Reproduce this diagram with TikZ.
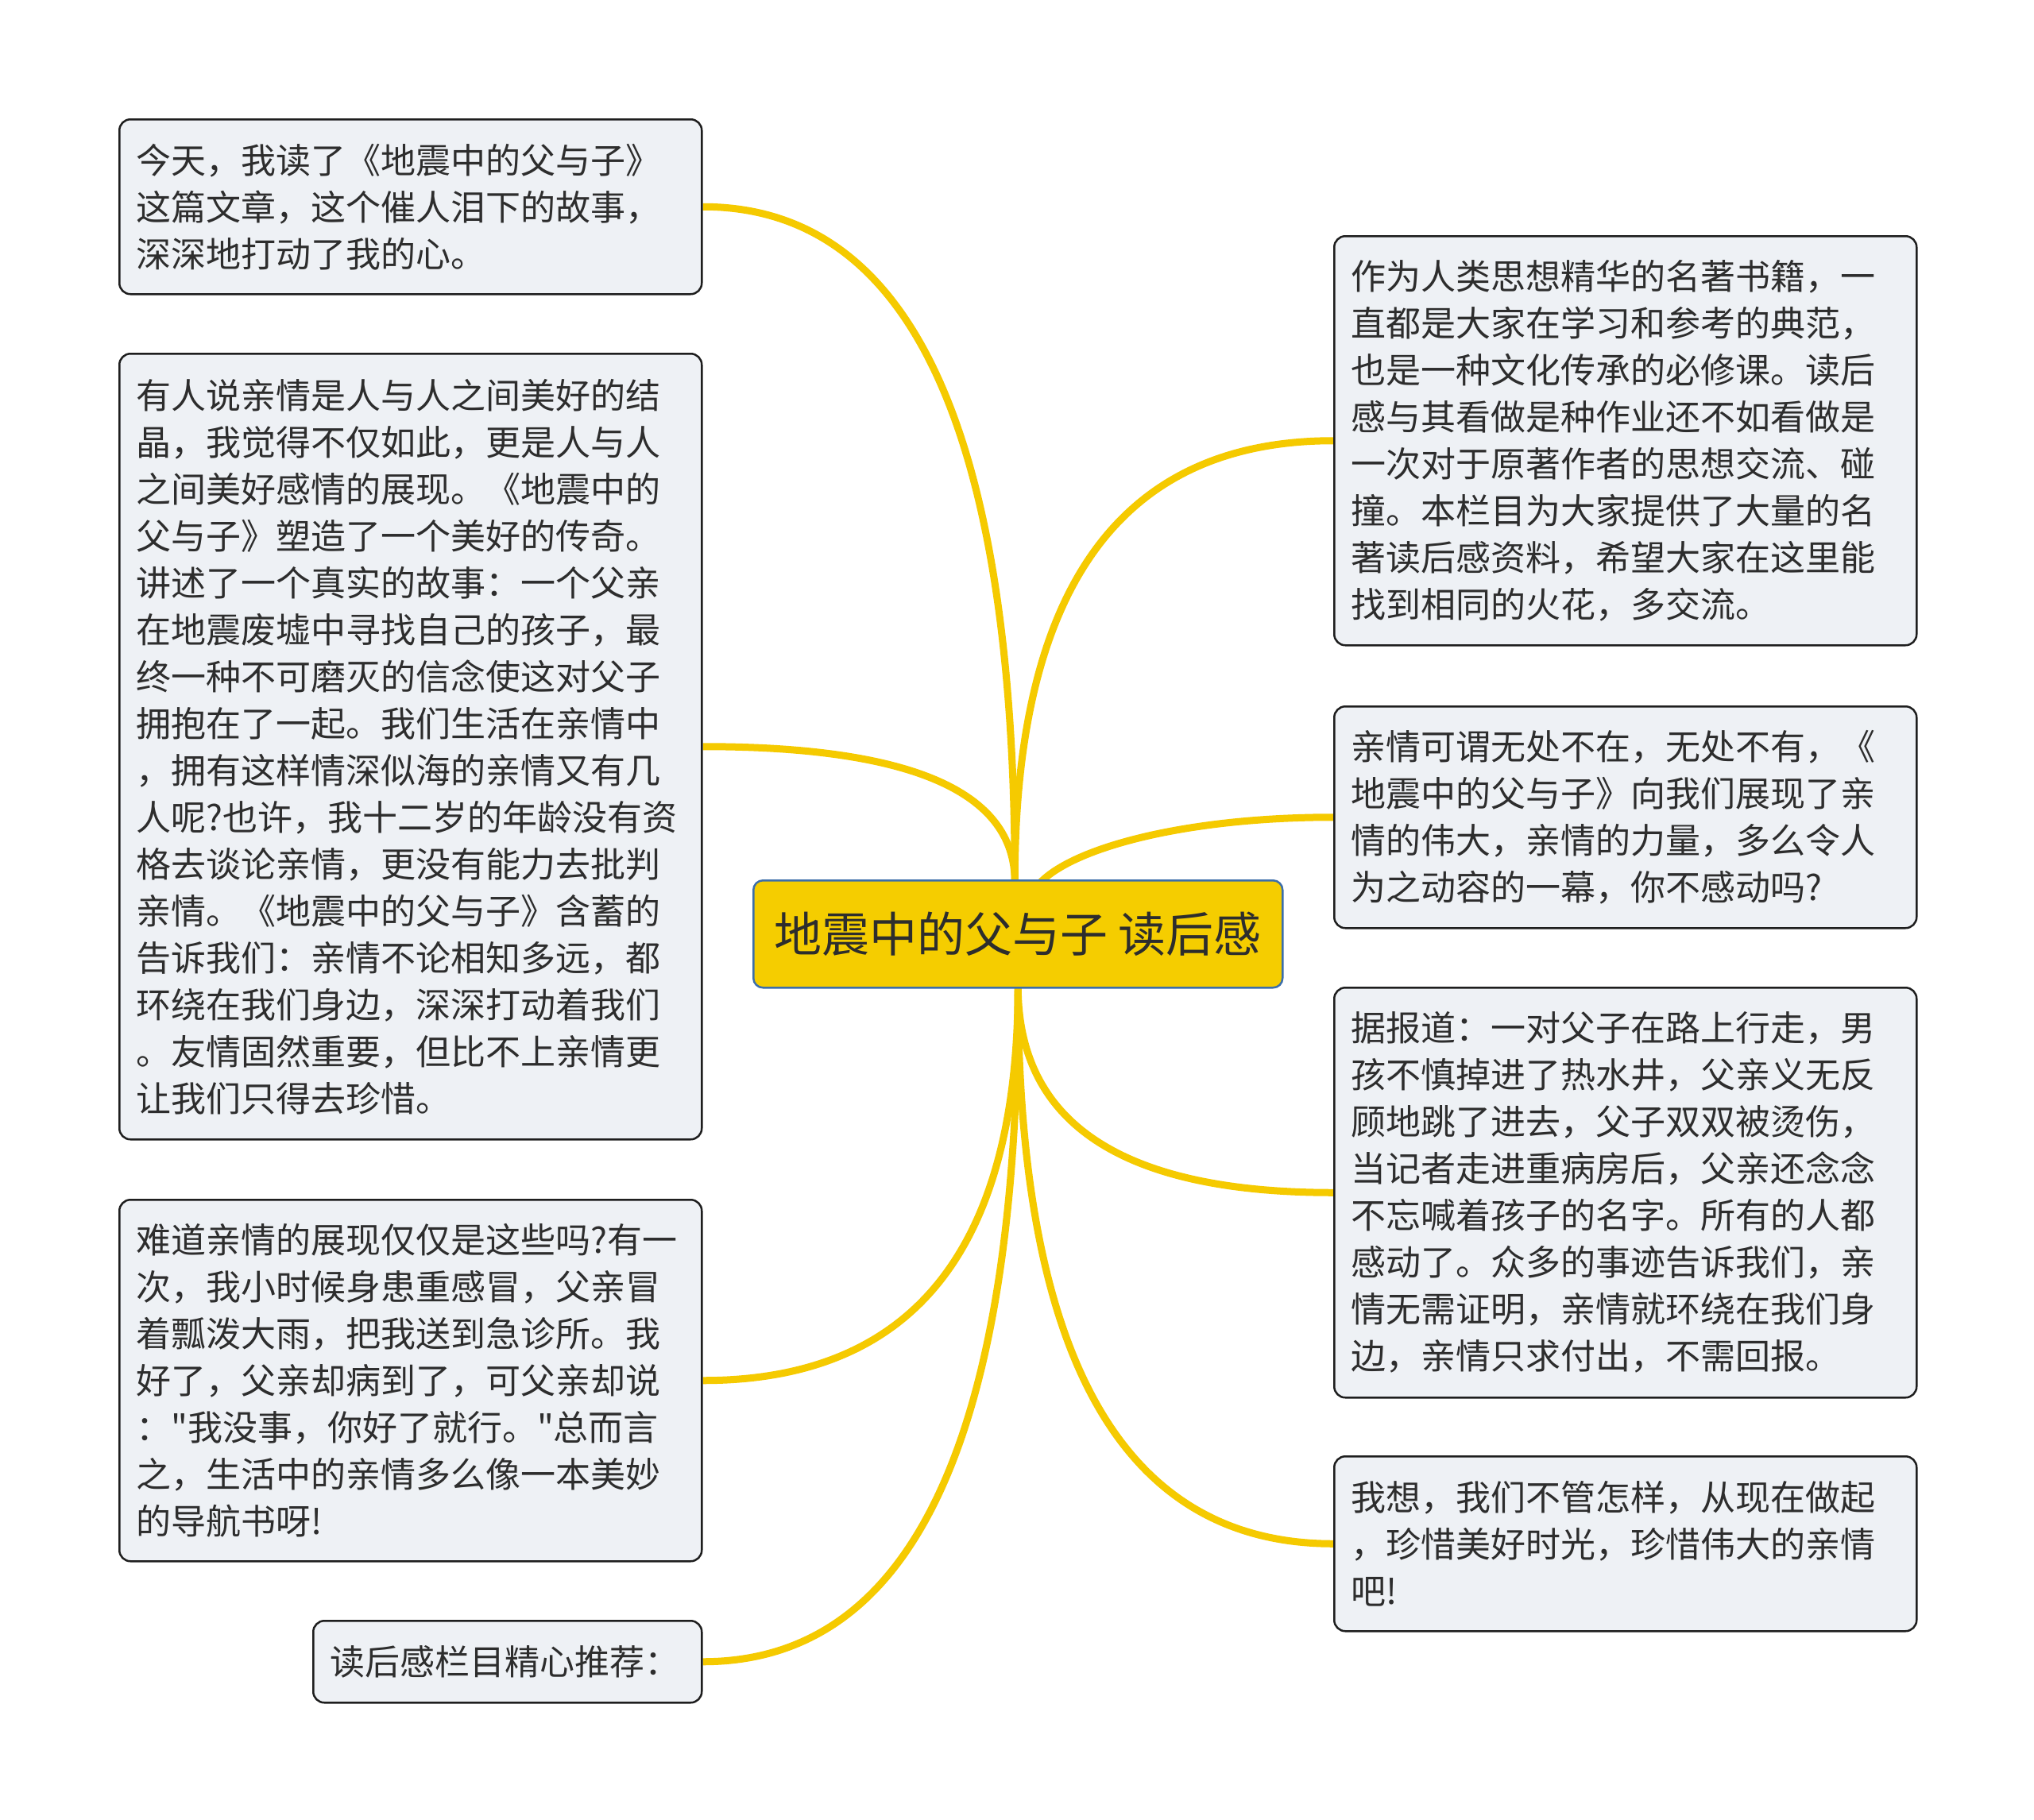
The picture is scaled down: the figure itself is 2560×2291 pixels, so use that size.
\documentclass[tikz,border=0pt]{standalone}
\usepackage{fontspec}
\setmainfont{Noto Sans CJK SC}[Ligatures=TeXOff]
\usetikzlibrary{calc,backgrounds}
\definecolor{edgeyellow}{RGB}{245,202,0}
\definecolor{rootfill}{RGB}{245,205,0}
\definecolor{rootborder}{RGB}{60,110,170}
\definecolor{boxfill}{RGB}{238,241,245}
\definecolor{boxborder}{RGB}{30,30,30}
\definecolor{txt}{RGB}{45,45,45}
\tikzset{
  leafbox/.style={draw=boxborder, line width=2.5pt, fill=boxfill, rounded corners=14pt,
    anchor=north west, inner xsep=21pt, inner ysep=0pt, align=left, text=txt,
    text width=691pt, minimum width=733pt,
    font=\fontsize{44}{59}\selectfont},
  rootbox/.style={draw=rootborder, line width=2.5pt, fill=rootfill, rounded corners=12pt,
    anchor=north west, minimum width=666pt, minimum height=135pt, text=txt,
    font=\fontsize{60}{70}\selectfont},
  link/.style={draw=edgeyellow, line width=9pt}
}
\begin{document}
\begin{tikzpicture}[x=1pt,y=-1pt]
\useasboundingbox (0,0) rectangle (2560,2291);

\node[rootbox] (c) at (947,1107) {地震中的父与子 读后感};

\node[leafbox, minimum height=220pt] (l1) at (149,149) {今天，我读了《地震中的父与子》\\这篇文章，这个催人泪下的故事，\\深深地打动了我的心。};

\node[leafbox, minimum height=989pt] (l2) at (149,444) {有人说亲情是人与人之间美好的结\\晶，我觉得不仅如此，更是人与人\\之间美好感情的展现。《地震中的\\父与子》塑造了一个美好的传奇。\\讲述了一个真实的故事：一个父亲\\在地震废墟中寻找自己的孩子，最\\终一种不可磨灭的信念使这对父子\\拥抱在了一起。我们生活在亲情中\\，拥有这样情深似海的亲情又有几\\人呢?也许，我十二岁的年龄没有资\\格去谈论亲情，更没有能力去批判\\亲情。《地震中的父与子》含蓄的\\告诉我们：亲情不论相知多远，都\\环绕在我们身边，深深打动着我们\\。友情固然重要，但比不上亲情更\\让我们只得去珍惜。};

\node[leafbox, minimum height=455pt] (l3) at (149,1509) {难道亲情的展现仅仅是这些吗?有一\\次，我小时候身患重感冒，父亲冒\\着瓢泼大雨，把我送到急诊所。我\\好了，父亲却病到了，可父亲却说\\："我没事，你好了就行。"总而言\\之，生活中的亲情多么像一本美妙\\的导航书呀!};

\node[leafbox, minimum height=103pt, text width=447pt, minimum width=489pt] (l4) at (393,2039) {读后感栏目精心推荐：};

\node[leafbox, minimum height=515pt] (r1) at (1678,296) {作为人类思想精华的名著书籍，一\\直都是大家在学习和参考的典范，\\也是一种文化传承的必修课。读后\\感与其看做是种作业还不如看做是\\一次对于原著作者的思想交流、碰\\撞。本栏目为大家提供了大量的名\\著读后感资料，希望大家在这里能\\找到相同的火花，多交流。};

\node[leafbox, minimum height=279pt] (r2) at (1678,888) {亲情可谓无处不在，无处不有，《\\地震中的父与子》向我们展现了亲\\情的伟大，亲情的力量，多么令人\\为之动容的一幕，你不感动吗?};

\node[leafbox, minimum height=516pt] (r3) at (1678,1242) {据报道：一对父子在路上行走，男\\孩不慎掉进了热水井，父亲义无反\\顾地跳了进去，父子双双被烫伤，\\当记者走进重病房后，父亲还念念\\不忘喊着孩子的名字。所有的人都\\感动了。众多的事迹告诉我们，亲\\情无需证明，亲情就环绕在我们身\\边，亲情只求付出，不需回报。};

\node[leafbox, minimum height=220pt] (r4) at (1678,1832) {我想，我们不管怎样，从现在做起\\，珍惜美好时光，珍惜伟大的亲情\\吧!};

\coordinate (ct) at ($(c.north)+(-4,3)$);
\coordinate (ct2) at ($(c.north)+(29,3)$);
\coordinate (cb) at ($(c.south)+(0,-3)$);

\begin{scope}[on background layer]
\fill[white] (0,0) rectangle (2560,2291);
\foreach \s/\e in {ct/l1.east, ct/l2.east, cb/l3.east, cb/l4.east, ct/r1.west, cb/r3.west, cb/r4.west}{
  \draw[link] (\s) .. controls ($(\s)!0.667!(\s |- \e)$) and ($(\e)!0.667!(\s |- \e)$) .. (\e);
}
\draw[link] (ct2) .. controls +(45,-45) and +(-180,0) .. (r2.west);
\end{scope}
\end{tikzpicture}
\end{document}
